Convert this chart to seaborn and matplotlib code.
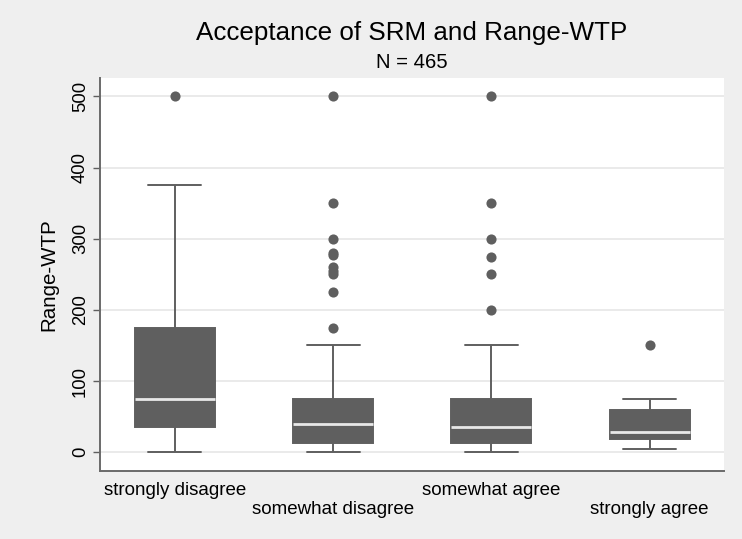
import numpy as np
import pandas as pd
import matplotlib
matplotlib.use("Agg")
import matplotlib.pyplot as plt
import seaborn as sns

# ---- data ----
categories = ["strongly disagree", "somewhat disagree", "somewhat agree", "strongly agree"]
# box summaries: lower whisker, Q1, median, Q3, upper whisker
lower_whisker = [0, 0, 0, 5]
q1 = [35, 12.5, 12.5, 18]
median = [75, 40, 35, 28]
q3 = [175, 75, 75, 60]
upper_whisker = [375, 150, 150, 75]
outliers = {
    "strongly disagree": [500],
    "somewhat disagree": [500, 350, 300, 280, 277, 260, 255, 250, 225, 175],
    "somewhat agree": [500, 350, 300, 275, 250, 200],
    "strongly agree": [150],
}
yticks = [0, 100, 200, 300, 400, 500]
title = "Acceptance of SRM and Range-WTP"
subtitle = "N = 465"
ylabel = "Range-WTP"

# ---- build tables ----
rows = []
for i, c in enumerate(categories):
    for v in (lower_whisker[i], q1[i], median[i], q3[i], upper_whisker[i]):
        rows.append({"group": c, "value": v})
box_df = pd.DataFrame(rows)
out_df = pd.DataFrame([{"group": c, "value": v} for c in categories for v in outliers[c]])

BG = "#efefef"
DARK = "#5f5f5f"

sns.set_style("white")
plt.rcParams["font.family"] = ["Liberation Sans", "DejaVu Sans"]
plt.rcParams["text.color"] = "black"
plt.rcParams["axes.labelcolor"] = "black"

fig = plt.figure(figsize=(7.42, 5.39), dpi=100, facecolor=BG)
ax = fig.add_axes([100 / 742, 1 - 470.7 / 539, 624 / 742, (470.7 - 78) / 539])
ax.set_facecolor("white")

ax.set_axisbelow(True)
for t in yticks:
    ax.axhline(t, color="#e6e6e6", lw=1.2, zorder=0)

sns.boxplot(data=box_df, x="group", y="value", order=categories, ax=ax,
            color=DARK, saturation=1, width=0.504, whis=np.inf,
            linecolor=DARK, linewidth=1.4, showfliers=False,
            medianprops={"color": "#e8e8e8", "linewidth": 2},
            capwidths=0.335)
sns.stripplot(data=out_df, x="group", y="value", order=categories, ax=ax,
              jitter=False, color=DARK, size=7.3, linewidth=0, zorder=5)

ax.set_xlim(-0.473, 3.47)
ax.set_ylim(-26, 526)
ax.set_yticks(yticks)
ax.set_yticklabels([str(t) for t in yticks], rotation=90, va="center", fontsize=13.3)
ax.tick_params(axis="y", left=True, length=5, width=1, color=DARK, pad=3, labelcolor="black")
ax.tick_params(axis="x", bottom=False, length=0, labelsize=13.5, labelcolor="black")
for i, tick in enumerate(ax.xaxis.get_major_ticks()):
    tick.set_pad(8 if i % 2 == 0 else 21.5)

ax.set_xlabel("")
ax.set_ylabel(ylabel, fontsize=14.8, labelpad=10)
for s in ("top", "right"):
    ax.spines[s].set_visible(False)
for s in ("left", "bottom"):
    ax.spines[s].set_color("#6a6a6a")
    ax.spines[s].set_linewidth(1.4)

fig.text(0.5 * (100 + 724) / 742, 1 - 33 / 539, title, ha="center", va="center", fontsize=18.7)
fig.text(0.5 * (100 + 724) / 742, 1 - 63 / 539, subtitle, ha="center", va="center", fontsize=14.6)

fig.savefig("out.png", dpi=100, facecolor=BG)
